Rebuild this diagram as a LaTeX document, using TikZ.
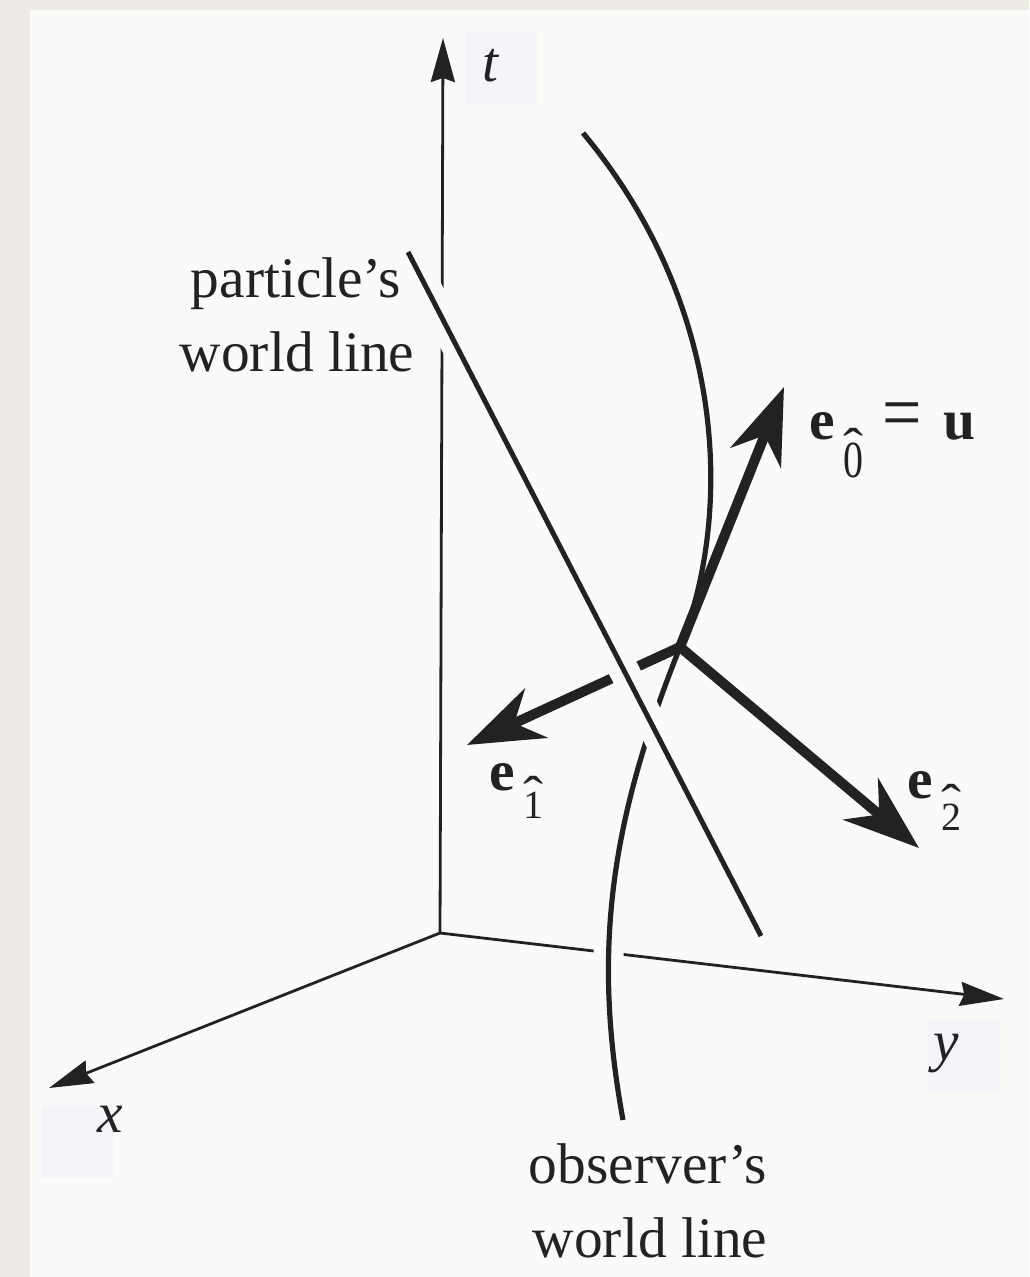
\documentclass[tikz,border=0pt]{standalone}
\usepackage{graphicx}
\usepackage{fontspec}
\setmainfont{Liberation Serif}
\usetikzlibrary{arrows.meta}
\definecolor{outerbg}{HTML}{EEEBE6}
\definecolor{innerbg}{HTML}{FAFAF8}
\definecolor{labbox}{HTML}{F3F5F8}
\definecolor{ink}{HTML}{222222}
% digit with a hat above it: #1 = extra raise of the hat, #2 = digit
\newcommand\hatdig[2]{{\fontsize{20}{20}\selectfont\rlap{\raisebox{#1}{\scalebox{1.5}[1.3]{\char"02C6}}}#2}}
% bold e with hatted subscript: #1 = lowering, #2 = hat raise, #3 = digit
\newcommand\evecsub[3]{\textbf{e}\kern4.5pt\raisebox{#1}{\hatdig{#2}{#3}}}
\begin{document}
\begin{tikzpicture}[x=0.5pt,y=-0.5pt,
  axisline/.style={draw=ink, line width=1.4pt, -{Stealth[length=22pt,width=12pt,inset=2pt]}},
  worldline/.style={draw=ink, line width=2.5pt},
  halo/.style={draw=innerbg, line width=15pt},
  vect/.style={draw=ink, line width=5pt, -{Stealth[length=38pt,width=27pt,inset=12pt]}},
  lab/.style={inner sep=0pt, text=ink, font=\fontsize{28.7}{34}\selectfont},
  labbg/.style={fill=labbox, draw=none}]
\useasboundingbox (0,0) rectangle (1029,1277);
\fill[outerbg] (0,0) rectangle (1029,1277);
\fill[innerbg] (30,10) rectangle (1029,1277);
% faint label boxes
\fill[labbg] (465,32) rectangle (537,104);
\fill[labbg] (928,1020) rectangle (1000,1093);
\fill[labbg] (41,1105) rectangle (113,1178);
% coordinates
\coordinate (O) at (440,933);
\coordinate (T) at (443,38);
\coordinate (X) at (49,1088);
\coordinate (Y) at (1004,999);
\coordinate (ev) at (680,647);
\coordinate (e0tip) at (784,387);
\coordinate (e1tip) at (467,745);
\coordinate (e2tip) at (919,848);
\coordinate (pA) at (408,252);
\coordinate (pB) at (761,936);
\coordinate (oA) at (583,133);
\coordinate (oB) at (623,1120);
% axes
\draw[axisline] (O) -- (T);
\draw[axisline] (O) -- (X);
\draw[axisline] (O) -- (Y);
% observer's world line
\def\obspath{(oA) .. controls (724,302) and (735,508) .. (ev) .. controls (613.4,814.4) and (590.6,943.6) .. (oB)}
\draw[halo] \obspath;
\draw[worldline, line width=2.6pt] \obspath;
% frame vectors
\draw[vect] (ev) -- (e0tip);
\draw[vect] (ev) -- (e2tip);
\draw[vect] (ev) -- (e1tip);
% particle's world line
\draw[halo] (pA) -- (pB);
\draw[worldline] (pA) -- (pB);
% labels
\node[lab, anchor=base] (tlab) at (491,82) {\textit{t}};
\node[lab, anchor=base] (xlab) at (110,1132) {\textit{x}};
\node[lab, anchor=base] (ylab) at (946,1060) {\textit{y}};
\node[lab, anchor=base] (plab1) at (296,298) {particle’s};
\node[lab, anchor=base] (plab2) at (297,372) {world line};
\node[lab, anchor=base] (olab1) at (648,1183) {observer’s};
\node[lab, anchor=base] (olab2) at (650,1257) {world line};
\node[lab, anchor=base west] (e0lab) at (809,440) {\evecsub{-19pt}{6.7pt}{\scalebox{1}[1.3]{0}}\kern9.5pt\scalebox{1.22}[1.4]{=}\kern10.5pt\textbf{u}};
\node[lab, anchor=base west] (e1lab) at (489,790) {\evecsub{-14pt}{3pt}{1}};
\node[lab, anchor=base west] (e2lab) at (907,798) {\evecsub{-16pt}{5pt}{2}};
\end{tikzpicture}
\end{document}
